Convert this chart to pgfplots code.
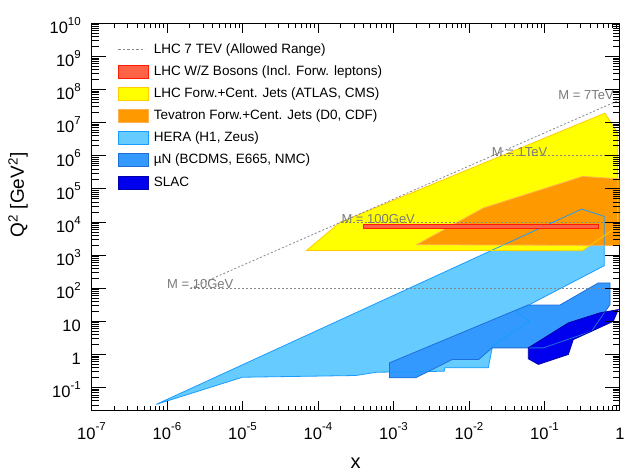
\documentclass[border=0pt]{standalone}
\usepackage{fontspec}
\setmainfont{Liberation Sans}
\usepackage{pgfplots}
\pgfplotsset{compat=1.18}
\usepackage{pgfplotstable}

\definecolor{wzF}{HTML}{FF6347}
\definecolor{wzD}{HTML}{FF1A00}
\definecolor{ljF}{HTML}{FFFF00}
\definecolor{ljD}{HTML}{FFCC00}
\definecolor{tvF}{HTML}{FF9900}
\definecolor{tvD}{HTML}{FFB050}
\definecolor{heF}{HTML}{66CCFF}
\definecolor{heD}{HTML}{1A9CFF}
\definecolor{muF}{HTML}{3399FF}
\definecolor{muD}{HTML}{1F6FD8}
\definecolor{slF}{HTML}{0000EE}
\definecolor{slD}{HTML}{0000AA}
\definecolor{mgray}{HTML}{888888}
\definecolor{tgray}{HTML}{7A7A7A}
\definecolor{tickc}{HTML}{000000}

\pgfplotsset{
  arealeg/.style={legend image code/.code={\draw[##1] (0pt,-6.5pt) rectangle (30pt,6.5pt);}},
  lineleg/.style={legend image code/.code={\draw[##1] (0pt,0pt) -- (27pt,0pt);}},
  tk/.style={forget plot, color=tickc, line width=0.9pt, mark=none},
}

\newcommand{\ex}[1]{10\raisebox{0.5em}{\fontsize{11.5}{12}\selectfont #1}}

% HERA (H1, Zeus)
\pgfplotstableread{
x y
7.2e-7 0.031
0.311 2.46e4
0.62 1.47e4
0.62 480
0.0428 20.1
0.063 10
0.0206 1.85
0.018 0.395
4.8e-3 0.395
4.7e-3 0.311
5.97e-4 0.29
3.15e-4 0.231
1e-5 0.205
}\hera

% muN (BCDMS, E665, NMC)
\pgfplotstableread{
x y
8.85e-4 0.558
0.0605 31
0.16 31
0.516 144
0.738 144
0.738 32
0.42 5.0
0.0964 1.58
0.0202 1.58
0.0134 0.70
5.96e-3 0.70
1.97e-3 0.197
8.85e-4 0.197
}\muN

% SLAC
\pgfplotstableread{
x y
0.061 1.58
0.207 8.97
0.543 18
0.948 22.6
0.815 10
0.24 2.8
0.207 1.0
0.083 0.5
0.061 0.74
}\slac

% LHC Forw.+Cent. Jets
\pgfplotstableread{
x y
7.08e-5 1387
1.95e-4 9700
0.632 1.93e7
0.933 4.8e6
0.93 7350
0.318 1360
}\lhcjets

% Tevatron Forw.+Cent. Jets
\pgfplotstableread{
x y
2.03e-3 2060
0.0155 2.64e4
0.32 2.37e5
0.98 2.0e5
0.98 1963
}\tevjets

% LHC W/Z
\pgfplotstableread{
x y
4.06e-4 6464
0.527 6464
0.527 8315
4.06e-4 8315
}\wz

\begin{document}
\begin{tikzpicture}
\begin{axis}[
  scale only axis, width=528.5pt, height=387.4pt,
  xmode=log, ymode=log,
  xmin=1e-7, xmax=1, ymin=0.02, ymax=1e10,
  xtick={1e-7,1e-6,1e-5,1e-4,1e-3,1e-2,1e-1,1},
  xticklabels={\ex{-7},\ex{-6},\ex{-5},\ex{-4},\ex{-3},\ex{-2},\ex{-1},1},
  ytick={0.1,1,10,100,1e3,1e4,1e5,1e6,1e7,1e8,1e9,1e10},
  yticklabels={\ex{-1},1,10,\ex{2},\ex{3},\ex{4},\ex{5},\ex{6},\ex{7},\ex{8},\ex{9},\ex{10}},
  minor tick num=0,
  tick label style={font=\fontsize{16.5}{18}\selectfont, inner sep=0pt},
  xticklabel style={anchor=base, yshift=-28.3pt},
  yticklabel style={anchor=base east, yshift=-10.3pt, xshift=-10.5pt},
  major tick length=0pt, minor tick length=0pt,
  axis line style={line width=1pt},
  xlabel={x},
  ylabel={Q\textsuperscript{2} [GeV\textsuperscript{2}]},
  xlabel style={font=\fontsize{20}{22}\selectfont, at={(axis description cs:0.5,-0.135)}, anchor=center},
  ylabel style={font=\fontsize{19}{21}\selectfont, at={(axis description cs:-0.139,0.557)}, anchor=center},
  legend style={draw=none, fill=none, inner sep=0pt,
    at={(axis description cs:0.0496,0.949)}, anchor=north west,
    font=\fontsize{13.5}{16}\selectfont, row sep=8.4pt,
    nodes={inner ysep=0pt, inner xsep=5pt, text height=10pt, text depth=3pt}},
  legend cell align=left,
]
% legend entries
\addlegendimage{lineleg, mgray, dash pattern=on 2.5pt off 2pt, line width=0.9pt}
\addlegendentry{LHC 7 TEV (Allowed Range)}
\addlegendimage{arealeg, fill=wzF, draw=wzD, line width=0.8pt}
\addlegendentry{LHC W/Z Bosons (Incl. Forw. leptons)}
\addlegendimage{arealeg, fill=ljF, draw=ljD, line width=0.8pt}
\addlegendentry{LHC Forw.+Cent. Jets (ATLAS, CMS)}
\addlegendimage{arealeg, fill=tvF, draw=tvD, line width=0.8pt}
\addlegendentry{Tevatron Forw.+Cent. Jets (D0, CDF)}
\addlegendimage{arealeg, fill=heF, draw=heD, line width=0.8pt}
\addlegendentry{HERA (H1, Zeus)}
\addlegendimage{arealeg, fill=muF, draw=muD, line width=0.8pt}
\addlegendentry{µN (BCDMS, E665, NMC)}
\addlegendimage{arealeg, fill=slF, draw=slD, line width=0.8pt}
\addlegendentry{SLAC}

% fills
\addplot[forget plot, fill=heF, draw=none] table {\hera} -- cycle;
\addplot[forget plot, fill=muF, draw=none] table {\muN} -- cycle;
\addplot[forget plot, fill=slF, draw=none] table {\slac} -- cycle;
\addplot[forget plot, fill=ljF, draw=none] table {\lhcjets} -- cycle;
\addplot[forget plot, fill=tvF, draw=none] table {\tevjets} -- cycle;
% outlines
\addplot[forget plot, draw=heD, line width=0.8pt] table {\hera} -- cycle;
\addplot[forget plot, draw=muD, line width=0.8pt] table {\muN} -- cycle;
\addplot[forget plot, draw=slD, line width=0.8pt] table {\slac} -- cycle;
\addplot[forget plot, draw=ljD, line width=0.8pt] table {\lhcjets} -- cycle;
\addplot[forget plot, draw=tvD, line width=0.8pt] table {\tevjets} -- cycle;
% W/Z
\addplot[forget plot, fill=wzF, draw=wzD, line width=1pt] table {\wz} -- cycle;

% kinematic lines
\addplot[forget plot, mgray, dash pattern=on 2pt off 2pt, line width=0.8pt] coordinates {(2.04e-6,100) (1,4.9e7)};
\addplot[forget plot, mgray, dash pattern=on 2pt off 2pt, line width=0.8pt] coordinates {(2.04e-6,100) (1,100)};
\addplot[forget plot, mgray, dash pattern=on 2pt off 2pt, line width=0.8pt] coordinates {(2.04e-4,1e4) (1,1e4)};
\addplot[forget plot, mgray, dash pattern=on 2pt off 2pt, line width=0.8pt] coordinates {(0.0204,1e6) (1,1e6)};

\node[anchor=base west, text=tgray, font=\fontsize{13}{15}\selectfont, inner sep=0pt] at (axis cs:1e-6,100) {M = 10GeV};
\node[anchor=base west, text=tgray, font=\fontsize{13}{15}\selectfont, inner sep=0pt, yshift=-1.5pt] at (axis cs:2.04e-4,1e4) {M = 100GeV};
\node[anchor=base west, text=tgray, font=\fontsize{13}{15}\selectfont, inner sep=0pt, yshift=-0.6pt] at (axis cs:0.02,1e6) {M = 1TeV};
\node[anchor=base west, text=tgray, font=\fontsize{13}{15}\selectfont, inner sep=0pt] at (axis cs:0.152,4.9e7) {M = 7TeV};

% axis ticks (ROOT style, inward on all four sides)
\pgfplotsinvokeforeach{1e-6,1e-5,1e-4,1e-3,1e-2,1e-1}{
  \addplot[tk] coordinates {(#1,0.02) (#1,0.0401)};
  \addplot[tk] coordinates {(#1,1e10) (#1,4.99e9)};
}
\pgfplotsinvokeforeach{2e-7,3e-7,4e-7,5e-7,6e-7,7e-7,8e-7,9e-7,
    2e-6,3e-6,4e-6,5e-6,6e-6,7e-6,8e-6,9e-6,
    2e-5,3e-5,4e-5,5e-5,6e-5,7e-5,8e-5,9e-5,
    2e-4,3e-4,4e-4,5e-4,6e-4,7e-4,8e-4,9e-4,
    2e-3,3e-3,4e-3,5e-3,6e-3,7e-3,8e-3,9e-3,
    2e-2,3e-2,4e-2,5e-2,6e-2,7e-2,8e-2,9e-2,
    2e-1,3e-1,4e-1,5e-1,6e-1,7e-1,8e-1,9e-1}{
  \addplot[tk, line width=0.7pt] coordinates {(#1,0.02) (#1,0.0283)};
  \addplot[tk, line width=0.7pt] coordinates {(#1,1e10) (#1,7.06e9)};
}
\pgfplotsinvokeforeach{0.1,1,10,100,1e3,1e4,1e5,1e6,1e7,1e8,1e9}{
  \addplot[tk] coordinates {(1e-7,#1) (1.58e-7,#1)};
  \addplot[tk] coordinates {(1,#1) (0.633,#1)};
}
\pgfplotsinvokeforeach{2e-2,3e-2,4e-2,5e-2,6e-2,7e-2,8e-2,9e-2,
    2e-1,3e-1,4e-1,5e-1,6e-1,7e-1,8e-1,9e-1,
    2,3,4,5,6,7,8,9,
    20,30,40,50,60,70,80,90,
    200,300,400,500,600,700,800,900,
    2e3,3e3,4e3,5e3,6e3,7e3,8e3,9e3,
    2e4,3e4,4e4,5e4,6e4,7e4,8e4,9e4,
    2e5,3e5,4e5,5e5,6e5,7e5,8e5,9e5,
    2e6,3e6,4e6,5e6,6e6,7e6,8e6,9e6,
    2e7,3e7,4e7,5e7,6e7,7e7,8e7,9e7,
    2e8,3e8,4e8,5e8,6e8,7e8,8e8,9e8,
    2e9,3e9,4e9,5e9,6e9,7e9,8e9,9e9}{
  \addplot[tk, line width=0.7pt] coordinates {(1e-7,#1) (1.257e-7,#1)};
  \addplot[tk, line width=0.7pt] coordinates {(1,#1) (0.796,#1)};
}
\end{axis}
\path (current axis.south west) ++(-91.5pt,-63.3pt) rectangle ([shift={(7pt,23.3pt)}]current axis.north east);
\end{tikzpicture}
\end{document}
